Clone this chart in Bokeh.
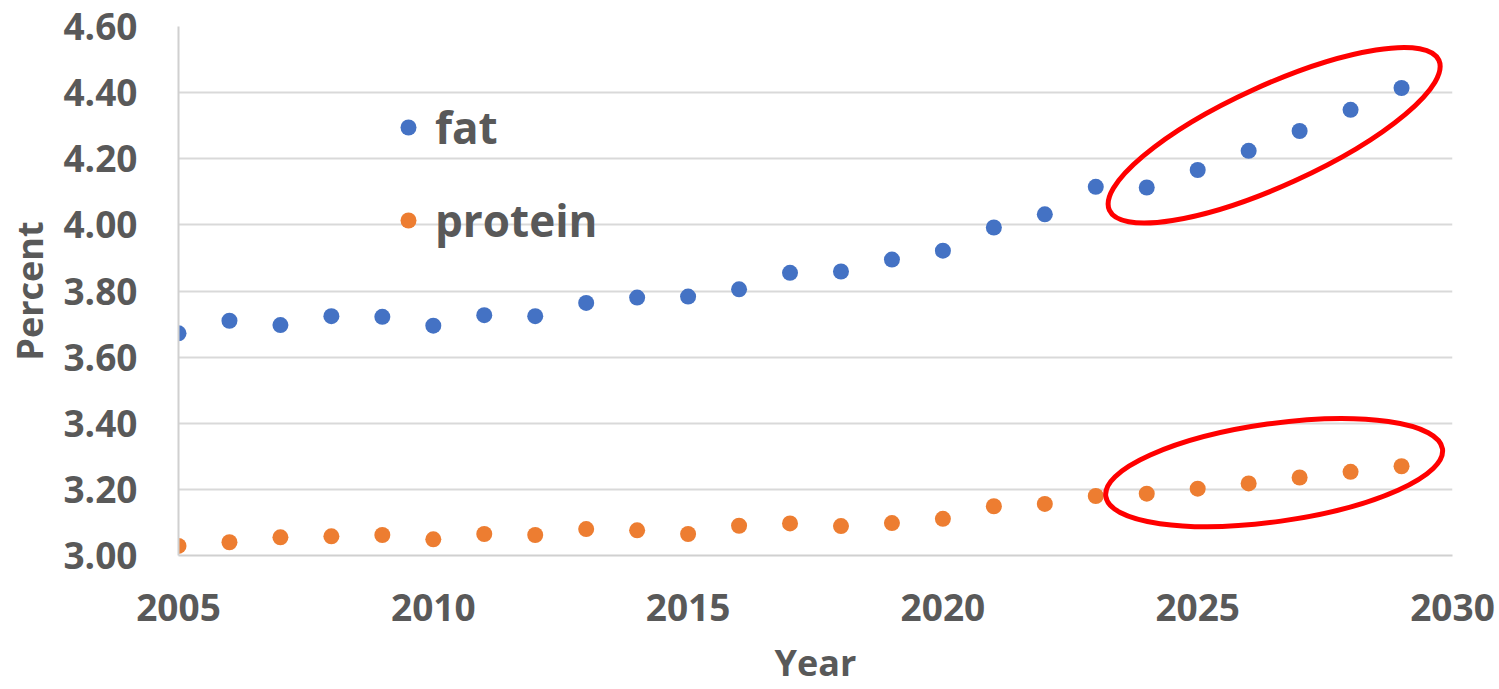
from bokeh.plotting import figure
from bokeh.models import (Range1d, FixedTicker, NumeralTickFormatter, Legend,
                          LegendItem, ColumnDataSource, Label)
from bokeh.embed import file_html
from bokeh.resources import INLINE

# Milk component share by year (actual + projected)
years = list(range(2005, 2030))
fat = [3.672, 3.710, 3.697, 3.724, 3.722, 3.695, 3.727, 3.724, 3.764, 3.780,
       3.783, 3.805, 3.855, 3.859, 3.895, 3.922, 3.992, 4.032, 4.115, 4.113,
       4.166, 4.224, 4.284, 4.348, 4.414]
protein = [3.029, 3.040, 3.055, 3.058, 3.062, 3.049, 3.065, 3.062, 3.080, 3.076,
           3.065, 3.090, 3.097, 3.089, 3.098, 3.111, 3.149, 3.156, 3.180, 3.187,
           3.202, 3.218, 3.236, 3.253, 3.270]

x_ticks = [2005, 2010, 2015, 2020, 2025, 2030]
y_ticks = [3.0, 3.2, 3.4, 3.6, 3.8, 4.0, 4.2, 4.4, 4.6]

# Years circled as the projection period
highlight_start, highlight_end = 2024, 2029

FONT = "Open Sans"
GREY = "#595959"
BLUE = "#4472C4"
ORANGE = "#ED7D31"

x_range = Range1d(2005, 2030)
p = figure(width=1499, height=689, output_backend="svg", toolbar_location=None,
           x_range=x_range, y_range=Range1d(3.0, 4.6),
           min_border_left=178, min_border_right=47,
           min_border_top=26, min_border_bottom=134)
p.outline_line_color = None
p.background_fill_color = "white"
p.border_fill_color = "white"

src = ColumnDataSource(dict(year=years, fat=fat, protein=protein))
r_fat = p.scatter("year", "fat", source=src, size=16, fill_color=BLUE, line_color=None)
r_pro = p.scatter("year", "protein", source=src, size=16, fill_color=ORANGE, line_color=None)

# Red rings around the projected points
def ring(values, nudge, w, h, deg):
    sel = [(y, v) for y, v in zip(years, values) if highlight_start <= y <= highlight_end]
    cx = sum(y for y, _ in sel) / len(sel)
    cy = sum(v for _, v in sel) / len(sel) + nudge
    p.ellipse(x=[cx], y=[cy], width=w, height=h, angle=deg * 3.14159265 / 180,
              width_units="screen", height_units="screen",
              fill_color=None, line_color="#FF0000", line_width=5)

ring(fat, 0.013, 362, 100, 24.5)
ring(protein, 0.023, 340, 98, 8)

# Grid and axes
p.xgrid.grid_line_color = None
p.ygrid.grid_line_color = "#d9d9d9"
p.ygrid.grid_line_width = 2

for ax in (p.xaxis[0], p.yaxis[0]):
    ax.axis_line_color = "#d0d0d0"
    ax.axis_line_width = 2
    ax.major_tick_line_color = None
    ax.minor_tick_line_color = None
    ax.major_tick_in = 0
    ax.major_tick_out = 0
    ax.major_label_text_font = FONT
    ax.major_label_text_font_style = "bold"
    ax.major_label_text_font_size = "37px"
    ax.major_label_text_color = GREY
    ax.axis_label_text_font = FONT
    ax.axis_label_text_font_style = "bold"
    ax.axis_label_text_font_size = "36px"
    ax.axis_label_text_color = GREY

p.xaxis.ticker = FixedTicker(ticks=x_ticks)
p.yaxis.ticker = FixedTicker(ticks=y_ticks)
p.yaxis.formatter = NumeralTickFormatter(format="0.00")
p.yaxis.axis_label = "Percent"
p.xaxis.major_label_standoff = 38
p.yaxis.major_label_standoff = 41
p.yaxis.axis_label_standoff = 6

# x-axis title, in its own panel under the axis, centred on the x range
p.add_layout(Label(x=(x_range.start + x_range.end) / 2, y=10,
                   x_units="data", y_units="screen", text="Year",
                   text_align="center", text_baseline="alphabetic",
                   text_font=FONT, text_font_style="bold",
                   text_font_size="36px", text_color=GREY), "below")

legend = Legend(items=[LegendItem(label="fat", renderers=[r_fat]),
                       LegendItem(label="protein", renderers=[r_pro])],
                location=(210, 305), orientation="vertical",
                glyph_width=40, glyph_height=40, label_standoff=7,
                spacing=33, padding=0, margin=0,
                border_line_color=None, background_fill_alpha=0,
                label_text_font=FONT, label_text_font_style="bold",
                label_text_font_size="44px", label_text_color=GREY)
p.add_layout(legend)

open("out.html", "w").write(file_html(p, INLINE))
